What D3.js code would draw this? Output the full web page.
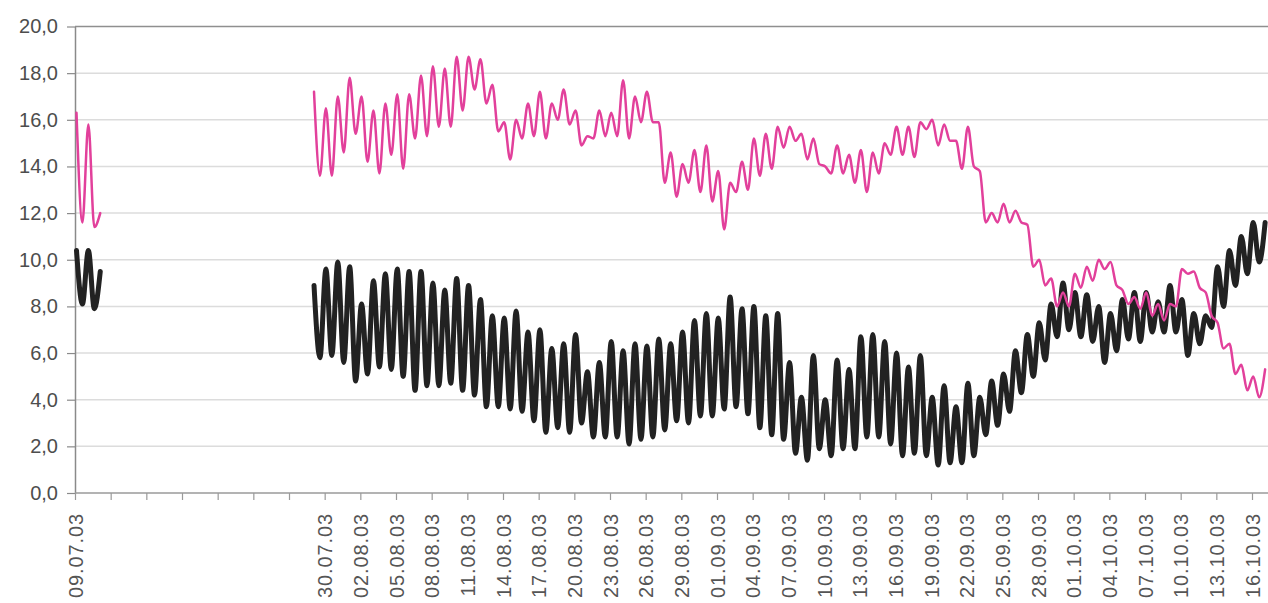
<!DOCTYPE html>
<html>
<head>
<meta charset="utf-8">
<script src="https://cdn.jsdelivr.net/npm/d3@7"></script>
<style>
  html, body { margin: 0; padding: 0; background: #fff; }
  svg { display: block; }
</style>
</head>
<body>
<svg id="chart" width="1268" height="603"></svg>
<script>
// Readings alternate daily maximum / minimum, 12 hours apart.
const earlyStart = "09.07.2003 03:00";
const mainStart  = "29.07.2003 02:30";

const pinkEarly  = [16.3, 11.6, 15.8, 11.4, 12.0];
const blackEarly = [10.4, 8.1, 10.4, 7.9, 9.5];

const pinkMain = [
  17.2,13.6, 16.5,13.6, 17.0,14.6, 17.8,15.4, 17.0,14.2, 16.4,13.7, 16.7,14.5, 17.1,13.9,
  17.1,15.2, 17.9,15.3, 18.3,15.7, 18.2,15.7, 18.7,16.4, 18.7,17.3, 18.6,16.7,
  17.5,15.5, 15.9,14.3, 16.0,15.2, 16.7,15.3, 17.2,15.2, 16.7,16.0, 17.3,15.8, 16.4,14.9,
  15.3,15.2, 16.4,15.3, 16.3,15.3, 17.7,15.2, 17.0,15.9, 17.2,15.9, 15.9,13.3, 14.6,12.7,
  14.1,13.3, 14.7,12.9, 14.9,12.5, 13.8,11.3, 13.3,12.9, 14.2,13.0, 15.2,13.6, 15.4,13.9,
  15.7,14.8, 15.7,15.1, 15.4,14.3, 15.2,14.1, 14.0,13.7, 14.9,13.7, 14.5,13.3, 14.7,12.9,
  14.6,13.7, 15.0,14.5, 15.7,14.5, 15.7,14.4, 15.9,15.6, 16.0,14.9, 15.8,15.1, 15.1,13.9,
  15.7,14.0, 13.8,11.6, 12.0,11.6, 12.4,11.6, 12.1,11.6, 11.5,9.7, 10.0,8.9, 9.2,8.0,
  8.6,8.0, 9.4,8.8, 9.7,9.1, 10.0,9.6, 9.9,8.9, 8.7,8.1, 8.4,7.9, 8.6,7.6, 8.1,7.4,
  8.1,8.0, 9.6,9.4, 9.5,8.8, 8.6,7.6, 7.3,6.2, 6.4,5.1, 5.5,4.4, 5.0,4.1,
  5.3
];

const blackMain = [
  8.9,5.8, 9.6,5.9, 9.9,5.6, 9.7,4.8, 8.1,5.1, 9.1,5.4, 9.4,5.3, 9.6,5.0,
  9.5,4.4, 9.5,4.6, 9.0,4.6, 8.7,4.7, 9.2,4.4, 8.9,4.2, 8.3,3.7,
  7.6,3.7, 7.5,3.6, 7.8,3.5, 6.9,3.1, 7.0,2.6, 6.2,2.8, 6.4,2.6, 6.8,3.0,
  5.2,2.4, 5.6,2.4, 6.5,2.4, 6.1,2.1, 6.4,2.3, 6.3,2.4, 6.6,2.7, 6.4,3.1,
  6.9,3.0, 7.4,3.3, 7.7,3.3, 7.5,3.6, 8.4,3.7, 7.9,3.4, 8.0,2.8, 7.6,2.5,
  7.7,2.3, 5.6,1.7, 4.1,1.4, 5.9,1.9, 4.0,1.6, 5.7,1.9, 5.3,1.9, 6.7,2.4,
  6.8,2.4, 6.5,2.1, 6.0,1.6, 5.4,1.7, 5.9,1.6, 4.1,1.2, 4.6,1.3, 3.7,1.3,
  4.7,1.6, 4.1,2.5, 4.8,2.9, 5.1,3.5, 6.1,4.3, 6.8,5.0, 7.3,5.7, 8.1,6.7,
  9.0,7.0, 8.6,6.7, 8.5,6.5, 8.0,5.6, 7.7,6.1, 8.3,6.6, 8.6,6.5, 8.6,6.9, 8.2,6.9,
  8.9,6.9, 8.3,5.9, 7.7,6.4, 7.6,7.1, 9.7,8.0, 10.4,8.9, 11.0,9.4, 11.6,9.9,
  11.6
];

const yTicks = [0, 2, 4, 6, 8, 10, 12, 14, 16, 18, 20];

const tickLabels = [
  "09.07.03", "30.07.03", "02.08.03", "05.08.03", "08.08.03", "11.08.03", "14.08.03",
  "17.08.03", "20.08.03", "23.08.03", "26.08.03", "29.08.03", "01.09.03", "04.09.03",
  "07.09.03", "10.09.03", "13.09.03", "16.09.03", "19.09.03", "22.09.03", "25.09.03",
  "28.09.03", "01.10.03", "04.10.03", "07.10.03", "10.10.03", "13.10.03", "16.10.03"
];

const tickStepDays = 3;

// ---------------------------------------------------------------------------
const W = 1268, H = 603;
const parseStamp = d3.timeParse("%d.%m.%Y %H:%M");
const parseLabel = d3.timeParse("%d.%m.%y");
const fmtComma = d3.formatLocale({
  decimal: ",", thousands: ".", grouping: [3], currency: ["", " €"]
}).format(".1f");

const firstDay = parseLabel(tickLabels[0]);
const lastDay  = parseLabel(tickLabels[tickLabels.length - 1]);

const x = d3.scaleTime().domain([firstDay, lastDay]).range([75, 1252]);
const y = d3.scaleLinear().domain([0, 20]).range([493, 26.5]);

const toPoints = (startStr, values) => {
  const start = parseStamp(startStr);
  return values.map((v, i) => ({ t: d3.timeHour.offset(start, 12 * i), v }));
};

const svg = d3.select("#chart");
svg.append("rect").attr("width", W).attr("height", H).attr("fill", "#fff");

const fontFamily = "'Liberation Sans', Arial, sans-serif";

// horizontal gridlines
svg.append("g")
  .selectAll("line")
  .data(yTicks.filter(d => d > 0 && d < 20))
  .join("line")
  .attr("x1", x(firstDay)).attr("x2", W)
  .attr("y1", d => y(d)).attr("y2", d => y(d))
  .attr("stroke", "#dcdcdc").attr("stroke-width", 1.5);

// top border of the plot area
svg.append("line")
  .attr("x1", x(firstDay)).attr("x2", W)
  .attr("y1", y(20)).attr("y2", y(20))
  .attr("stroke", "#8f8f8f").attr("stroke-width", 1.5);

// y axis
const yAxis = svg.append("g")
  .attr("transform", `translate(${x(firstDay)},0)`)
  .call(d3.axisLeft(y).tickValues(yTicks).tickFormat(fmtComma)
    .tickSize(8).tickSizeOuter(0).tickPadding(9));
yAxis.select(".domain").attr("stroke", "#8a8a8a").attr("stroke-width", 1.5);
yAxis.selectAll(".tick line").attr("stroke", "#8a8a8a").attr("stroke-width", 1.2);
yAxis.selectAll(".tick text")
  .attr("fill", "#4d4d4d")
  .style("font-family", fontFamily)
  .style("font-size", "20px");

// x axis: a tick every third day, labels where a reading exists
const tickDates = d3.range(0, d3.timeDay.count(firstDay, lastDay) + 1, tickStepDays)
  .map(n => d3.timeDay.offset(firstDay, n));
const labelSet = new Map(tickLabels.map(s => [+parseLabel(s), s]));

const xAxis = svg.append("g")
  .attr("transform", `translate(0,${y(0)})`)
  .call(d3.axisBottom(x).tickValues(tickDates)
    .tickFormat(d => labelSet.get(+d) || "")
    .tickSize(7).tickSizeOuter(0));
xAxis.select(".domain").remove();
xAxis.selectAll(".tick line").attr("stroke", "#9a9a9a").attr("stroke-width", 1.2);
xAxis.selectAll(".tick text")
  .attr("transform", "rotate(-90)")
  .attr("x", -20)
  .attr("y", 0)
  .attr("dy", "0.36em")
  .style("text-anchor", "end")
  .attr("fill", "#555")
  .style("font-family", fontFamily)
  .style("font-size", "20px")
  .style("letter-spacing", "0.9px");

svg.append("line")
  .attr("x1", x(firstDay)).attr("x2", W)
  .attr("y1", y(0)).attr("y2", y(0))
  .attr("stroke", "#9a9a9a").attr("stroke-width", 1.5);

// series
const line = d3.line()
  .x(d => x(d.t))
  .y(d => y(d.v))
  .curve(d3.curveMonotoneX);

const series = [
  { name: "black", pts: [toPoints(earlyStart, blackEarly), toPoints(mainStart, blackMain)],
    color: "#222222", width: 5 },
  { name: "pink",  pts: [toPoints(earlyStart, pinkEarly), toPoints(mainStart, pinkMain)],
    color: "#e2409b", width: 2.5 }
];

series.forEach(s => {
  svg.append("g").attr("class", s.name)
    .selectAll("path")
    .data(s.pts)
    .join("path")
    .attr("d", line)
    .attr("fill", "none")
    .attr("stroke", s.color)
    .attr("stroke-width", s.width)
    .attr("stroke-linejoin", "round")
    .attr("stroke-linecap", "round");
});
</script>
</body>
</html>
